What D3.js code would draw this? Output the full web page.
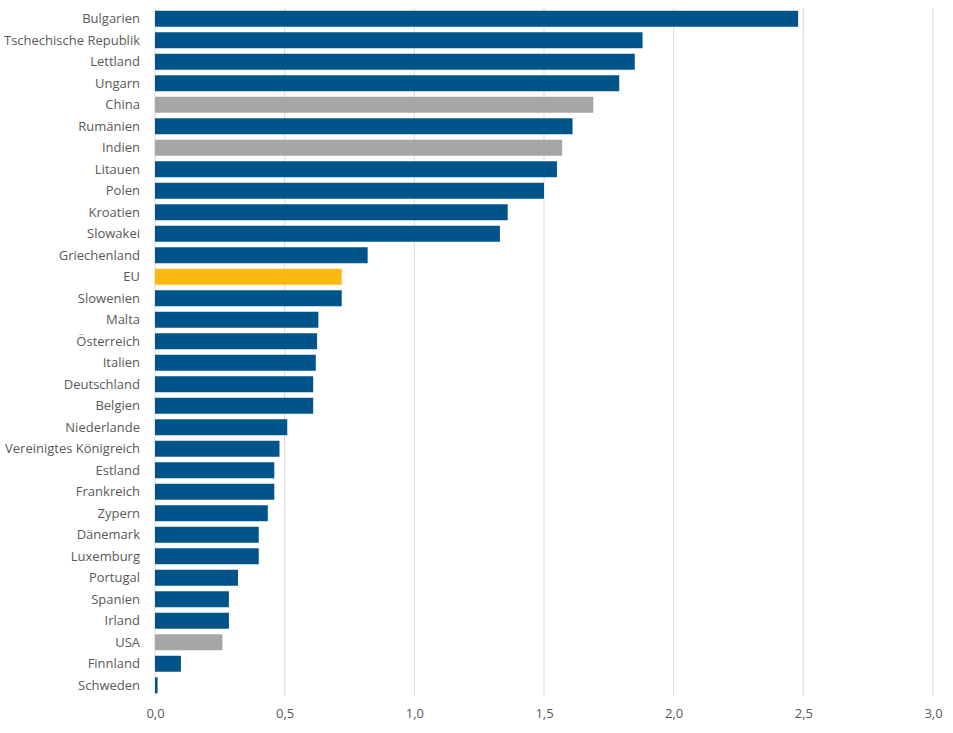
<!DOCTYPE html>
<html>
<head>
<meta charset="utf-8">
<script src="https://cdn.jsdelivr.net/npm/d3@7"></script>
<style>
  body { margin: 0; background: #fff; }
  text { font-family: "Open Sans", "Noto Sans", sans-serif; }
</style>
</head>
<body>
<div id="chart"></div>
<script>
// Categories, top to bottom
var countries = ["Bulgarien", "Tschechische Republik", "Lettland", "Ungarn", "China", "Rumänien",
    "Indien", "Litauen", "Polen", "Kroatien", "Slowakei", "Griechenland", "EU", "Slowenien",
    "Malta", "Österreich", "Italien", "Deutschland", "Belgien", "Niederlande",
    "Vereinigtes Königreich", "Estland", "Frankreich", "Zypern", "Dänemark", "Luxemburg",
    "Portugal", "Spanien", "Irland", "USA", "Finnland", "Schweden"];

var values = [2.48, 1.88, 1.85, 1.79, 1.69, 1.61, 1.57, 1.55, 1.50, 1.36, 1.33, 0.82, 0.72, 0.72,
    0.63, 0.625, 0.62, 0.61, 0.61, 0.51, 0.48, 0.46, 0.46, 0.435, 0.40, 0.40,
    0.32, 0.285, 0.285, 0.26, 0.10, 0.01];

// group: "eu" member, "other" non-EU country, "avg" EU average
var groups = ["eu", "eu", "eu", "eu", "other", "eu", "other", "eu", "eu", "eu", "eu", "eu", "avg", "eu",
    "eu", "eu", "eu", "eu", "eu", "eu", "eu", "eu", "eu", "eu", "eu", "eu",
    "eu", "eu", "eu", "other", "eu", "eu"];

var xTicks = [0, 0.5, 1, 1.5, 2, 2.5, 3];

var colors = { eu: "#01548a", other: "#a6a6a6", avg: "#fdb813" };

var width = 953, height = 733;
var margin = { top: 8, right: 20, bottom: 37, left: 155 };

var svg = d3.select("#chart")
    .append("svg")
    .attr("width", width)
    .attr("height", height);

var x = d3.scaleLinear()
    .domain([0, 3])
    .range([margin.left, 933]);

var y = d3.scaleBand()
    .domain(countries)
    .range([margin.top, height - margin.bottom])
    .paddingInner(0.256)
    .paddingOuter(0.128);

// vertical gridlines
svg.selectAll(".grid")
    .data(xTicks)
    .enter()
    .append("line")
    .attr("class", "grid")
    .attr("x1", d => x(d))
    .attr("x2", d => x(d))
    .attr("y1", margin.top)
    .attr("y2", height - margin.bottom)
    .style("stroke", "#d9d9d9")
    .style("stroke-width", 1);

// bars
svg.selectAll(".bar")
    .data(countries)
    .enter()
    .append("rect")
    .attr("class", "bar")
    .attr("x", x(0))
    .attr("y", d => y(d))
    .attr("width", (d, i) => x(values[i]) - x(0))
    .attr("height", y.bandwidth())
    .style("fill", (d, i) => colors[groups[i]]);

// category labels
svg.selectAll(".label")
    .data(countries)
    .enter()
    .append("text")
    .attr("class", "label")
    .attr("x", 140)
    .attr("y", d => y(d) + y.bandwidth() / 2)
    .attr("dy", "0.35em")
    .attr("text-anchor", "end")
    .style("font-size", "13px")
    .style("fill", "#595959")
    .text(d => d);

// x axis tick labels
var xAxis = d3.axisBottom(x)
    .tickValues(xTicks)
    .tickSize(0)
    .tickPadding(0)
    .tickFormat(d => d3.format(".1f")(d).replace(".", ","));

var gx = svg.append("g")
    .attr("transform", "translate(0," + (height - margin.bottom + 13) + ")")
    .call(xAxis);

gx.select(".domain").remove();
gx.selectAll("text")
    .style("font-family", "'Open Sans', 'Noto Sans', sans-serif")
    .style("font-size", "13px")
    .style("fill", "#595959");
</script>
</body>
</html>
